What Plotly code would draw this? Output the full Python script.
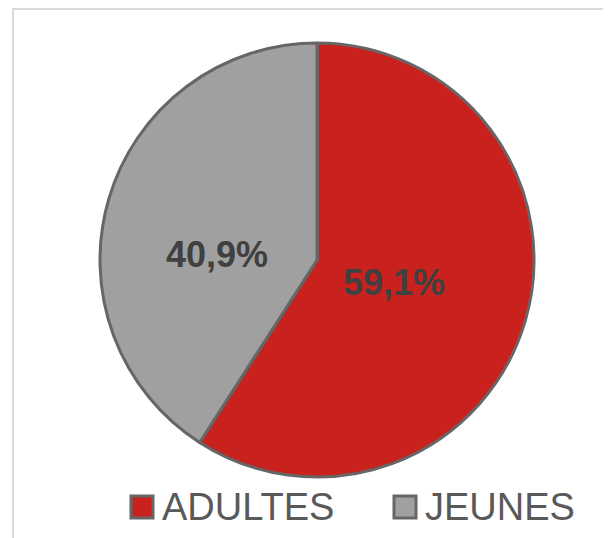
import math
import plotly.graph_objects as go

labels = ["ADULTES", "JEUNES"]
values = [59.1, 40.9]
colors = ["#C9211E", "#A0A0A0"]

# page body has an 8px margin; work in figure pixels
OFF = 8
W, H = 611 - OFF, 538 - OFF
cx, cy, r = 317 - OFF, 260 - OFF, 217
label_radius = [0.37, 0.48]   # label distance from centre, fraction of radius
label_yshift = [0, -24]       # small vertical nudge of labels (px, down negative)

fig = go.Figure()
fig.add_trace(go.Pie(
    labels=labels,
    values=values,
    sort=False,
    direction="clockwise",
    rotation=0,
    marker=dict(colors=colors, line=dict(color="#666666", width=3)),
    textinfo="none",
    domain=dict(x=[(cx - r) / W, (cx + r) / W], y=[(H - cy - r) / H, (H - cy + r) / H]),
    showlegend=False,
    hoverinfo="skip",
))

annotations = []
total = sum(values)
start = 0.0
for v, rf, ys in zip(values, label_radius, label_yshift):
    mid = (start + v / 2) / total * 2 * math.pi
    start += v
    px = cx + rf * r * math.sin(mid)
    py = cy - rf * r * math.cos(mid)
    annotations.append(dict(
        text=f"{v / total * 100:.1f}%".replace(".", ","),
        xref="paper", yref="paper", x=px / W, y=(H - py) / H, yshift=ys,
        xanchor="center", yanchor="middle", showarrow=False,
        font=dict(family="Liberation Sans, Arial, sans-serif", size=36, color="#404040", weight="bold")))

shapes = [dict(type="rect", xref="paper", yref="paper",
               x0=(13 - OFF) / W, x1=1.02, y0=-0.02, y1=1 - 1 / H,
               line=dict(color="#D9D9D9", width=2), fillcolor="rgba(0,0,0,0)", layer="below")]
legend_x = [131 - OFF, 394 - OFF]
ly = 507 - OFF
sq = 22
for lab, col, x in zip(labels, colors, legend_x):
    shapes.append(dict(type="rect", xref="paper", yref="paper",
                       x0=x / W, x1=(x + sq) / W, y0=(H - ly - sq / 2) / H, y1=(H - ly + sq / 2) / H,
                       line=dict(color="#666666", width=3), fillcolor=col))
    annotations.append(dict(text=lab, xref="paper", yref="paper", x=(x + sq + 7) / W, y=(H - ly) / H,
                            xanchor="left", yanchor="middle", showarrow=False,
                            font=dict(family="Liberation Sans, Arial, sans-serif", size=38, color="#595959")))

fig.update_layout(
    width=W, height=H,
    margin=dict(l=0, r=0, t=0, b=0),
    paper_bgcolor="white",
    shapes=shapes,
    annotations=annotations,
)
fig.write_html("out.html")
